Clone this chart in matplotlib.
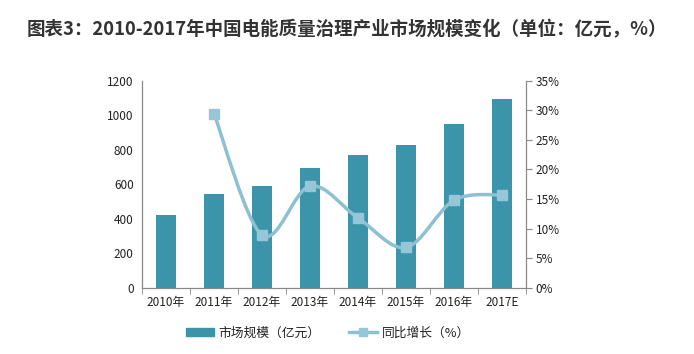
import numpy as np
import matplotlib.pyplot as plt
from matplotlib.path import Path
from matplotlib.patches import PathPatch
from matplotlib.lines import Line2D
from matplotlib.patches import Patch

plt.rcParams['font.family'] = ['Noto Sans CJK SC', 'DejaVu Sans']

years = ['2010年', '2011年', '2012年', '2013年', '2014年', '2015年', '2016年', '2017E']
market = [421, 543, 590, 696, 769, 827, 949, 1094]
growth = [None, 29.4, 8.9, 17.2, 11.8, 6.8, 14.8, 15.7]

bar_color = '#3c94ab'
line_color = '#8dc0d2'
text_color = '#222222'
axis_color = '#888888'

fig = plt.figure(figsize=(6.94, 3.54), dpi=100)
ax = fig.add_axes([142 / 694, 1 - 287.7 / 354, 384 / 694, 207 / 354])
ax2 = ax.twinx()

x = np.arange(len(years))
ax.bar(x, market, width=0.4, color=bar_color, zorder=2)
ax.set_xlim(-0.5, len(years) - 0.5)
ax.set_ylim(0, 1200)
ax.set_yticks(range(0, 1201, 200))
ax.set_xticks(x)
ax.set_xticklabels(years)
ax.set_xticks(np.arange(-0.5, len(years)), minor=True)
ax.tick_params(axis='x', which='major', length=0, pad=6, labelsize=8.5, labelcolor=text_color)
ax.tick_params(axis='x', which='minor', length=4, color=axis_color, direction='out')
ax.tick_params(axis='y', length=0, pad=6, labelsize=8.5, labelcolor=text_color)

# smooth line through growth points (Catmull-Rom as cubic Bezier)
gx = [i for i, g in enumerate(growth) if g is not None]
gy = [g for g in growth if g is not None]
pts = np.column_stack([gx, gy]).astype(float)
verts = [tuple(pts[0])]
codes = [Path.MOVETO]
for i in range(len(pts) - 1):
    p0 = pts[i - 1] if i > 0 else pts[i]
    p1, p2 = pts[i], pts[i + 1]
    p3 = pts[i + 2] if i + 2 < len(pts) else pts[i + 1]
    c1 = p1 + (p2 - p0) / 6
    c2 = p2 - (p3 - p1) / 6
    verts += [tuple(c1), tuple(c2), tuple(p2)]
    codes += [Path.CURVE4] * 3
ax2.add_patch(PathPatch(Path(verts, codes), fill=False, edgecolor=line_color,
                        lw=2.5, zorder=3, capstyle='round'))
ax2.plot(gx, gy, ls='none', marker='s', ms=7, color='#97c6d7', zorder=4)
ax2.set_ylim(0, 35)
ax2.set_yticks(range(0, 36, 5))
ax2.set_yticklabels([f'{v}%' for v in range(0, 36, 5)])
ax2.tick_params(axis='y', length=4, color=axis_color, pad=3, labelsize=8.5, labelcolor=text_color)

for a in (ax, ax2):
    a.spines['top'].set_visible(False)
    for s in ('left', 'right', 'bottom'):
        a.spines[s].set_color(axis_color)
        a.spines[s].set_linewidth(0.8)

fig.text(0.5, 1 - 30 / 354, '图表3：2010-2017年中国电能质量治理产业市场规模变化（单位：亿元，%）',
         ha='center', va='center', fontsize=13.3, fontweight='bold', color='#333333')

handles = [Patch(color=bar_color),
           Line2D([0], [0], color=line_color, lw=2.5, marker='s', ms=6, markerfacecolor='#97c6d7',
                  markeredgecolor='#97c6d7')]
fig.legend(handles, ['市场规模（亿元）', '同比增长（%）'], loc='center',
           bbox_to_anchor=(328 / 694, 1 - 333 / 354), ncol=2, frameon=False, fontsize=9.2,
           handlelength=2.2, handleheight=0.6, handletextpad=0.4, columnspacing=2.2,
           labelcolor=text_color)

fig.savefig('out.png', dpi=100)
